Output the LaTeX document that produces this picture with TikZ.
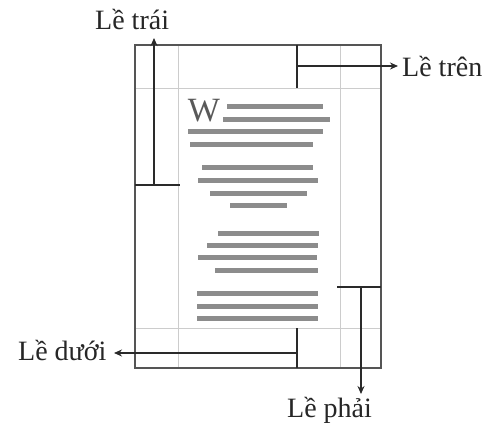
\documentclass[tikz,border=0pt]{standalone}
\usepackage{fontspec}
\setmainfont{Liberation Serif}
\usetikzlibrary{arrows.meta}
\definecolor{pageedge}{HTML}{555555}
\definecolor{guide}{HTML}{CCCCCC}
\definecolor{bar}{HTML}{8C8C8C}
\definecolor{mark}{HTML}{2A2A2A}
\begin{document}
\begin{tikzpicture}[x=1pt,y=-1pt,
  pageframe/.style={draw=pageedge,line width=2pt},
  guideline/.style={draw=guide,line width=1pt},
  textbar/.style={draw=bar,line width=5pt},
  marker/.style={draw=mark,line width=1.5pt},
  marrow/.style={marker,-{Stealth[length=8pt,width=7pt]}},
  lbl/.style={inner sep=0pt,font=\fontsize{28}{30}\selectfont,text=black!85}]
\useasboundingbox (0,0) rectangle (493,431);
\fill[white] (0,0) rectangle (493,431);
% guides
\draw[guideline] (178,45) -- (178,368);
\draw[guideline] (340,45) -- (340,368);
\draw[guideline] (135,88) -- (381,88);
\draw[guideline] (135,328) -- (381,328);
% page
\draw[pageframe] (135,45) rectangle (381,368);
% W
\node[inner sep=0pt,font=\fontsize{34}{34}\selectfont,text=black!65] (w) at (204,111) {W};
% text bars
\draw[textbar] (227,106) -- (323,106);
\draw[textbar] (223,119) -- (330,119);
\draw[textbar] (188,131) -- (323,131);
\draw[textbar] (190,144) -- (313,144);
\draw[textbar] (202,167) -- (313,167);
\draw[textbar] (198,180) -- (318,180);
\draw[textbar] (210,193) -- (307,193);
\draw[textbar] (230,205) -- (287,205);
\draw[textbar] (218,233) -- (319,233);
\draw[textbar] (207,245) -- (318,245);
\draw[textbar] (198,257) -- (317,257);
\draw[textbar] (215,270) -- (318,270);
\draw[textbar] (197,293) -- (318,293);
\draw[textbar] (197,306) -- (318,306);
\draw[textbar] (197,318) -- (318,318);
% labels
\node[lbl,anchor=base west] (ltrai) at (95,30) {Lề trái};
\node[lbl,anchor=base west] (ltren) at (402,76) {Lề trên};
\node[lbl,anchor=base west] (lduoi) at (18,360) {Lề dưới};
\node[lbl,anchor=base west] (lphai) at (287,417) {Lề phải};
% marker coordinates
\coordinate (a1) at (154,185);
\coordinate (a2) at (154,38);
\coordinate (a3) at (135,185);
\coordinate (a4) at (180,185);
\coordinate (b1) at (297,45);
\coordinate (b2) at (297,88);
\coordinate (b3) at (297,66);
\coordinate (b4) at (398,66);
\coordinate (c1) at (297,328);
\coordinate (c2) at (297,368);
\coordinate (c3) at (297,353);
\coordinate (c4) at (114,353);
\coordinate (d1) at (337,287);
\coordinate (d2) at (381,287);
\coordinate (d3) at (361,287);
\coordinate (d4) at (361,394);
% markers
\draw[marker] (a3) -- (a4);
\draw[marrow] (a1) -- (a2);
\draw[marker] (b1) -- (b2);
\draw[marrow] (b3) -- (b4);
\draw[marker] (c1) -- (c2);
\draw[marrow] (c3) -- (c4);
\draw[marker] (d1) -- (d2);
\draw[marrow] (d3) -- (d4);
\end{tikzpicture}
\end{document}
